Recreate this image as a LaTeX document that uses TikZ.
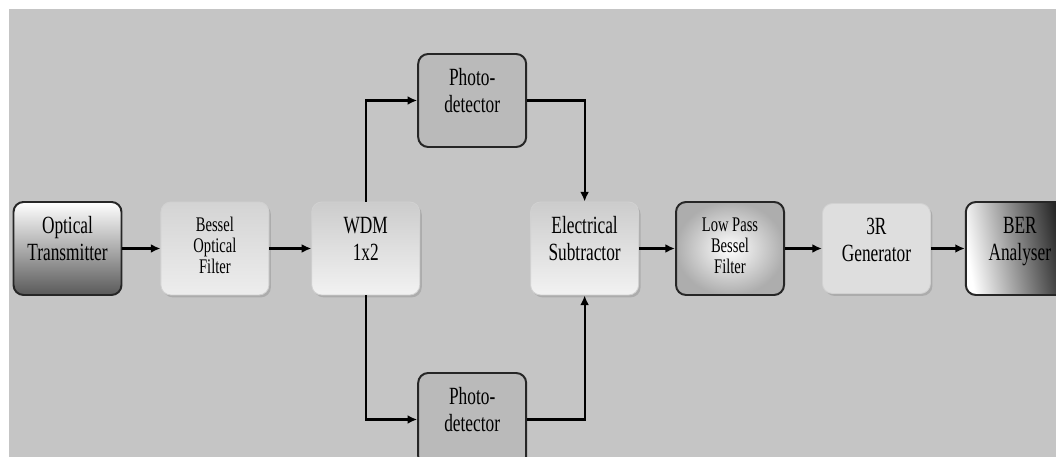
\documentclass[tikz,border=0pt]{standalone}
\usepackage{fontspec}
\setmainfont[FakeStretch=0.7]{Liberation Serif}
\usetikzlibrary{arrows.meta,positioning,calc,shadows}
\definecolor{bggray}{RGB}{197,197,197}
\definecolor{pdgray}{RGB}{186,186,186}
\definecolor{lightgray}{RGB}{222,222,222}

\begin{document}
\begin{tikzpicture}[x=0.25mm,y=0.25mm,
  every node/.style={align=center,font=\fontsize{17.6}{19.2}\selectfont},
  blk/.style={rounded corners=2.5mm,minimum width=27mm,minimum height=23.25mm,inner sep=0pt,text depth=14pt},
  darkblk/.style={blk,draw=black!85,line width=1.4pt},
  lightblk/.style={blk,draw=black!18,line width=0.6pt,
    drop shadow={shadow xshift=0.5mm,shadow yshift=-0.6mm,opacity=0.35}},
  small/.style={font=\fontsize{14.8}{15}\selectfont,text depth=4pt},
  conn/.style={-{Latex[length=2.4mm,width=2.2mm]},line width=1.5pt}]
\useasboundingbox (0,0) rectangle (1056,457);
\clip (0,0) rectangle (1056,457);
\fill[white] (0,0) rectangle (1056,457);
\fill[bggray] (9,0) rectangle (1056,448);

% main chain
\node[darkblk,top color=white,bottom color=black!65] (otx) at (67.5,208.5) {Optical\\Transmitter};
\node[lightblk,small,top color=black!17,bottom color=black!7,right=9.5mm of otx] (bof) {Bessel\\Optical\\Filter};
\node[lightblk,top color=black!20,bottom color=black!5,right=10.5mm of bof] (wdm) {WDM\\1x2};
\node[lightblk,top color=black!20,bottom color=black!5,right=27.5mm of wdm] (sub) {Electrical\\Subtractor};
\node[darkblk,small,inner color=white,outer color=black!32,right=9mm of sub] (lpf) {Low Pass\\Bessel\\Filter};
\node[lightblk,fill=lightgray,minimum height=22.5mm,text depth=12pt,right=9.25mm of lpf] (gen) {3R\\Generator};
\node[darkblk,left color=white,right color=black!95,shading angle=100,right=8.5mm of gen] (ber) {BER\\Analyser};

% photodetectors
\node[darkblk,fill=pdgray] (pdtop) at ($(wdm)!0.5!(sub)+(-3,148)$) {Photo-\\detector};
\node[darkblk,fill=pdgray] (pdbot) at ($(wdm)!0.5!(sub)+(-3,-171)$) {Photo-\\detector};

\draw[conn] (otx) -- (bof);
\draw[conn] (bof) -- (wdm);
\draw[conn] (wdm.north) |- (pdtop.west);
\draw[conn] (wdm.south) |- (pdbot.west);
\draw[conn] (pdtop.east) -| (sub.north);
\draw[conn] (pdbot.east) -| (sub.south);
\draw[conn] (sub) -- (lpf);
\draw[conn] (lpf) -- (gen);
\draw[conn] (gen) -- (ber);
\end{tikzpicture}
\end{document}
